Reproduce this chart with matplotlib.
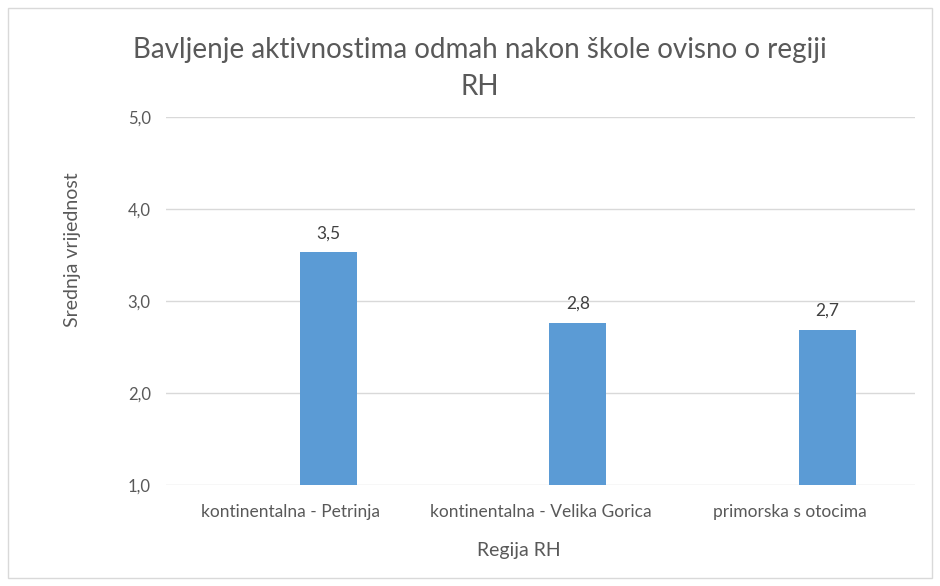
import matplotlib.pyplot as plt
from matplotlib.patches import Rectangle
import numpy as np

plt.rcParams['font.family'] = ['Lato', 'DejaVu Sans']

# Data
regions = ["kontinentalna - Petrinja", "kontinentalna - Velika Gorica", "primorska s otocima"]
means = [3.53, 2.76, 2.69]
y_ticks = [1.0, 2.0, 3.0, 4.0, 5.0]

text_col = "#595959"
bar_col = "#5b9bd5"

fig = plt.figure(figsize=(9.4, 5.86), dpi=100)
ax = fig.add_axes([0.1766, 0.1724, 0.7968, 0.6279])

x = np.arange(len(regions))
bars = ax.bar(x + 0.15, [m - 1.0 for m in means], bottom=1.0, width=0.228,
              color=bar_col, zorder=3)

for bar, m in zip(bars, means):
    ax.text(bar.get_x() + bar.get_width() / 2, m + 0.12, f"{m:.1f}".replace(".", ","),
            ha="center", va="bottom", fontsize=12.5, color="#404040")

ax.set_xlim(-0.5, len(regions) - 0.5)
ax.set_ylim(1.0, 5.0)
ax.set_yticks(y_ticks)
ax.set_yticklabels([f"{t:.1f}".replace(".", ",") for t in y_ticks])
ax.set_xticks(x)
ax.set_xticklabels(regions)
ax.tick_params(axis="both", length=0, colors=text_col)
ax.tick_params(axis="x", pad=14, labelsize=12.5)
ax.tick_params(axis="y", pad=11, labelsize=12)
ax.grid(axis="y", color="#d9d9d9", linewidth=1, zorder=0)
for s in ax.spines.values():
    s.set_visible(False)

ax.set_ylabel("Srednja vrijednost", fontsize=14, color=text_col)
ax.yaxis.set_label_coords(-0.113, 0.64)
ax.set_xlabel("Regija RH", fontsize=14, color=text_col)
ax.xaxis.set_label_coords(0.471, -0.155)

fig.text(0.51, 0.883, "Bavljenje aktivnostima odmah nakon škole ovisno o regiji\nRH",
         ha="center", va="center", fontsize=20, color=text_col, linespacing=1.55)

fig.patches.append(Rectangle((8 / 940, 8 / 586), 924 / 940, 570 / 586,
                             transform=fig.transFigure, fill=False,
                             edgecolor="#d9d9d9", linewidth=1))

plt.savefig("out.png", dpi=100)
